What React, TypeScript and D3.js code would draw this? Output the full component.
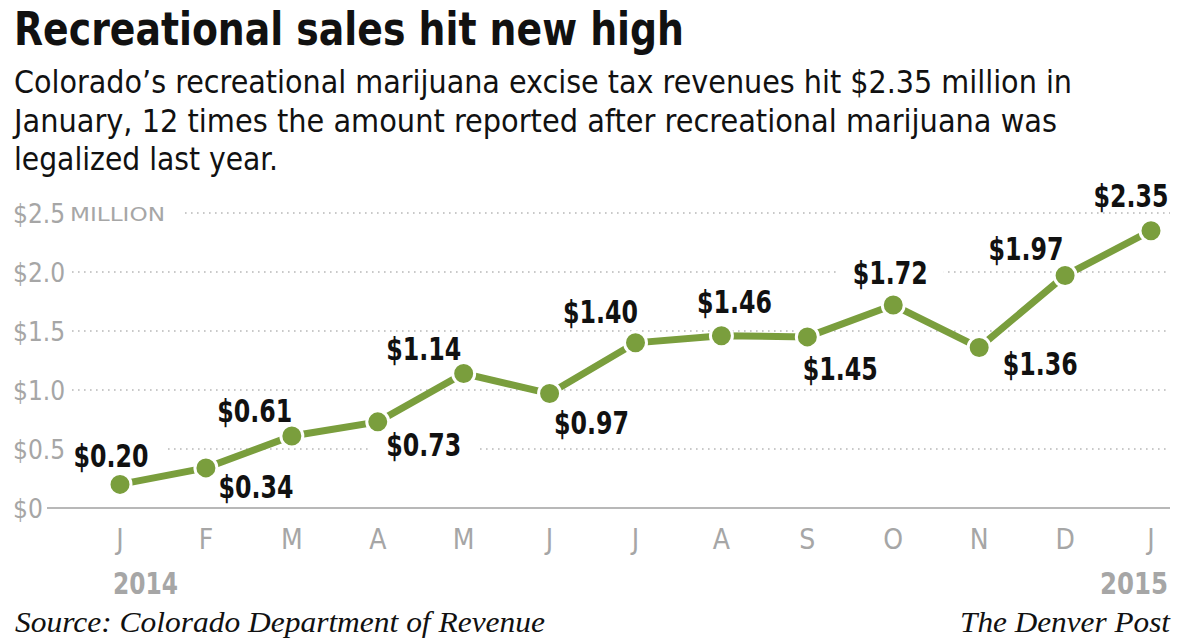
import React, { useEffect } from "react";
import * as d3 from "d3";

const months = ["J", "F", "M", "A", "M", "J", "J", "A", "S", "O", "N", "D", "J"];
const values = [0.2, 0.34, 0.61, 0.73, 1.14, 0.97, 1.4, 1.46, 1.45, 1.72, 1.36, 1.97, 2.35];
const valueLabels = ["$0.20", "$0.34", "$0.61", "$0.73", "$1.14", "$0.97", "$1.40", "$1.46", "$1.45", "$1.72", "$1.36", "$1.97", "$2.35"];
const yTicks = [0, 0.5, 1.0, 1.5, 2.0, 2.5];
const yTickLabels = ["$0", "$0.5", "$1.0", "$1.5", "$2.0", "$2.5"];
const yearLabels = ["2014", "2015"];
const subtitleLines = [
  "Colorado’s recreational marijuana excise tax revenues hit $2.35 million in",
  "January, 12 times the amount reported after recreational marijuana was",
  "legalized last year.",
];
// label placement relative to point: [dx (center), dy (baseline)]
const labelPlacement: [number, number][] = [
  [-9, -17], [50, 30], [-37, -14], [46, 34], [-40, -13], [42, 40], [-35, -20], [13, -23], [33, 43], [-3, -21], [61, 27], [-39, -16], [-20, -24],
];

const W = 1192, H = 639;
const cond = "'Liberation Sans Narrow', 'DejaVu Sans Condensed', 'Roboto Condensed', sans-serif";
const serif = "'Liberation Serif', 'DejaVu Serif', serif";

export default function App() {
  useEffect(() => {
    document.body.style.margin = "0";
  }, []);
  const x = d3.scalePoint<number>().domain(d3.range(months.length)).range([120, 1151]);
  const y = d3.scaleLinear().domain([0, 2.5]).range([508, 213]);
  const line = d3.line<number>().x((_, i) => x(i)!).y((d) => y(d));
  const green = "#7a9e3d";
  const gray = "#a6a6a6";
  const lw = 75;
  return (
    <svg width={W} height={H} style={{ display: "block", background: "#fff" }}>
      <text x={14} y={45} fontFamily={cond} fontWeight="bold" fontSize={46} fill="#111"
        textLength={670} lengthAdjust="spacingAndGlyphs">
        Recreational sales hit new high
      </text>
      {subtitleLines.map((t, i) => (
        <text key={i} x={14} y={93 + i * 38.5} fontFamily={cond} fontSize={32} fill="#111"
          textLength={[1058, 1043, 264][i]} lengthAdjust="spacingAndGlyphs">{t}</text>
      ))}
      {yTicks.map((t, i) =>
        t > 0 ? (
          <line key={i} x1={t === 2.5 ? 185 : 72} x2={1170} y1={y(t)} y2={y(t)} stroke="#b8b8b8" strokeWidth={1.6} strokeDasharray="1.6 4.4" />
        ) : null
      )}
      <line x1={47} x2={1170} y1={y(0)} y2={y(0)} stroke="#b8b8b8" strokeWidth={2} />
      {values.map((v, i) => {
        const cx = x(i)! + labelPlacement[i][0];
        const by = y(v) + labelPlacement[i][1];
        return <rect key={i} x={cx - lw / 2 - 16} y={by - 28} width={lw + 32} height={33} fill="#fff" />;
      })}
      {yTicks.map((t, i) => (
        <text key={i} x={13} y={y(t) + 10} fontFamily={cond} fontSize={26} fill={gray}>
          {yTickLabels[i]}
        </text>
      ))}
      <text x={70} y={y(2.5) + 8} fontFamily={cond} fontSize={20} fill={gray} textLength={95} lengthAdjust="spacingAndGlyphs">MILLION</text>
      <path d={line(values)!} fill="none" stroke={green} strokeWidth={7} />
      {values.map((v, i) => (
        <circle key={i} cx={x(i)} cy={y(v)} r={11} fill={green} stroke="#fff" strokeWidth={3} />
      ))}
      {values.map((v, i) => (
        <text key={i} x={x(i)! + labelPlacement[i][0] - lw / 2} y={y(v) + labelPlacement[i][1]}
          fontFamily={cond} fontWeight="bold" fontSize={32} fill="#111" textLength={lw} lengthAdjust="spacingAndGlyphs">
          {valueLabels[i]}
        </text>
      ))}
      {months.map((m, i) => (
        <text key={i} x={x(i)} y={549} textAnchor="middle" fontFamily={cond} fontSize={28} fill={gray}>{m}</text>
      ))}
      <text x={113} y={594} fontFamily={cond} fontWeight="bold" fontSize={30} fill={gray} textLength={65} lengthAdjust="spacingAndGlyphs">{yearLabels[0]}</text>
      <text x={1100} y={594} fontFamily={cond} fontWeight="bold" fontSize={30} fill={gray} textLength={68} lengthAdjust="spacingAndGlyphs">{yearLabels[1]}</text>
      <text x={15} y={632} fontFamily={serif} fontStyle="italic" fontSize={29} fill="#111" textLength={530} lengthAdjust="spacingAndGlyphs">Source: Colorado Department of Revenue</text>
      <text x={960} y={632} fontFamily={serif} fontStyle="italic" fontSize={29} fill="#111" textLength={210} lengthAdjust="spacingAndGlyphs">The Denver Post</text>
    </svg>
  );
}
